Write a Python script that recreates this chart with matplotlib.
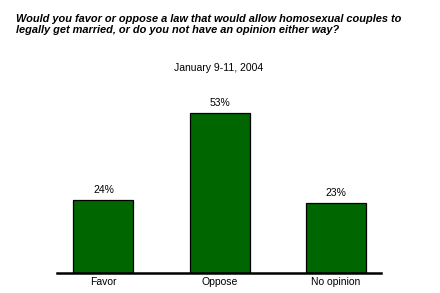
import matplotlib
matplotlib.use("Agg")
import matplotlib.pyplot as plt

categories = ["Favor", "Oppose", "No opinion"]
values = [24, 53, 23]
value_labels = ["24%", "53%", "23%"]
title = "Would you favor or oppose a law that would allow homosexual couples to\nlegally get married, or do you not have an opinion either way?"
subtitle = "January 9-11, 2004"

plt.rcParams['font.family'] = ['Liberation Sans', 'DejaVu Sans']

fig = plt.figure(figsize=(4.4, 2.93), dpi=100)
ax = fig.add_axes([57/440, 20.3/293, (381-57)/440, 180.6/293])
x = list(range(len(categories)))
ax.bar(x, values, width=0.517, color="#006600", edgecolor="black", linewidth=0.9, zorder=2)
ax.set_xlim(-0.40, 2.39)
ax.set_ylim(0, 60)
for xi, v, lab in zip(x, values, value_labels):
    ax.text(xi, v + 1.8, lab, ha="center", va="bottom", fontsize=7.5)
for s in ["top", "right", "left"]:
    ax.spines[s].set_visible(False)
ax.spines["bottom"].set_linewidth(1.8)
ax.spines["bottom"].set_zorder(3)
ax.set_yticks([])
ax.set_xticks(x)
ax.set_xticklabels(categories, fontsize=7.5)
ax.tick_params(axis="x", length=0, pad=3)

fig.text(16/440, 1 - 14.5/293, title, ha="left", va="top", fontsize=7.95,
         fontweight="bold", fontstyle="italic", linespacing=1.02)
fig.text(219/440, 1 - 68/293, subtitle, ha="center", va="center", fontsize=7.5)

fig.savefig("out.png", dpi=100)
